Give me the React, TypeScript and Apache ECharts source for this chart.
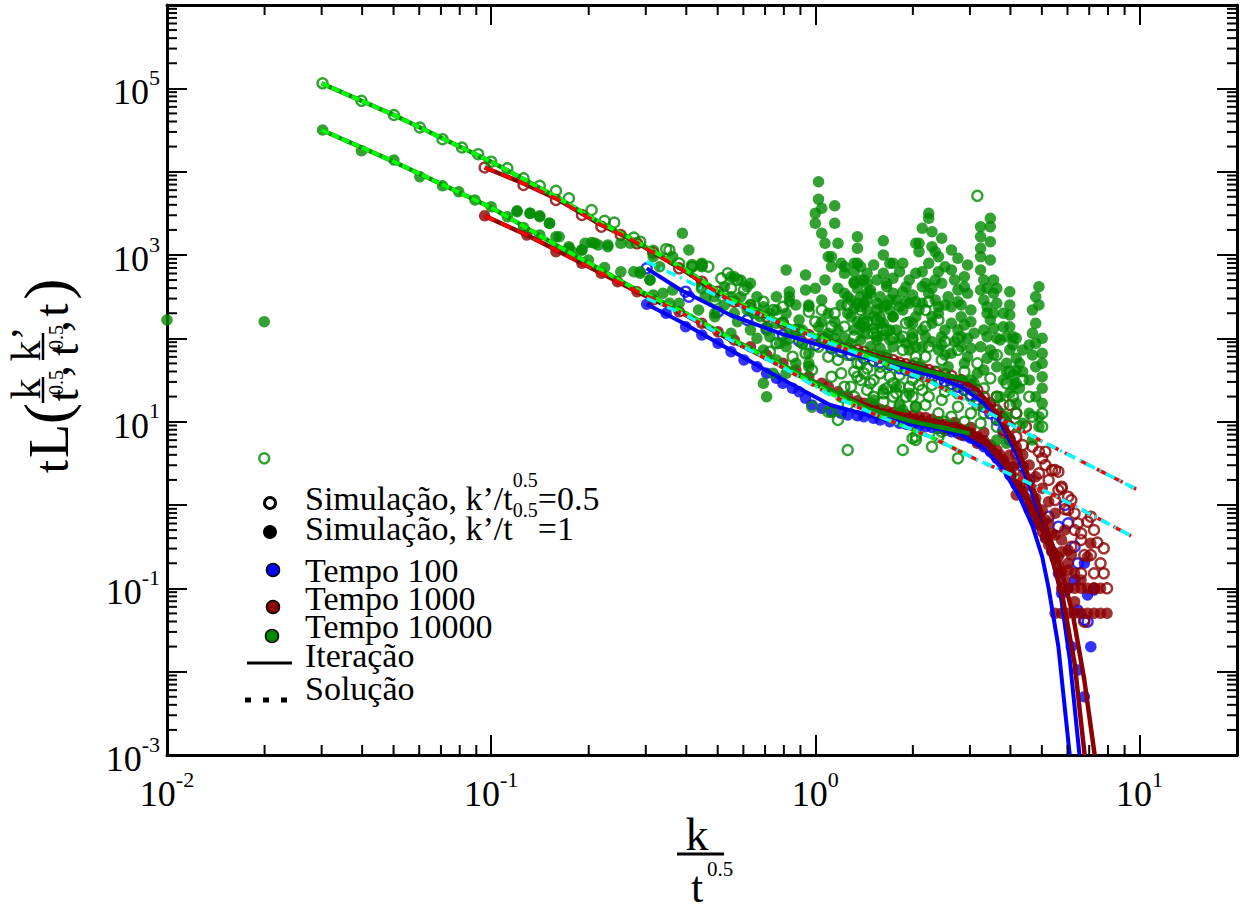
import React, { useEffect, useRef } from 'react';
import * as echarts from 'echarts';

const FONT = "'Liberation Serif', 'Times New Roman', Times, serif";

// axis ranges and tick values
const xRange = [0.01, 20];
const yRange = [0.001, 1e6];
const xMinorTicks = [0.02, 0.03, 0.04, 0.05, 0.06, 0.07, 0.08, 0.09, 0.2, 0.3, 0.4, 0.5, 0.6, 0.7, 0.8, 0.9, 2, 3, 4, 5, 6, 7, 8, 9];
const yDecades = [0.001, 0.01, 0.1, 1, 10, 100, 1000, 10000, 100000];
const minorMult = [2, 3, 4, 5, 6, 7, 8, 9];

// All data below: [log10(k/t^0.5), log10(tL)]
// Tempo 100, k'/t^0.5 = 0.5 (open)
const t100Open = [[-0.52,2.84],[-0.40,2.56],[-0.39,2.50],[-0.30,2.32],[-0.21,2.22],[-0.15,2.12],[-0.10,2.04],[-0.05,1.97],[0.0,1.92],[0.05,1.88],[0.08,1.84],[0.11,1.80],[0.15,1.76],[0.18,1.73],[0.20,1.71],[0.23,1.68],[0.26,1.64],[0.28,1.62],[0.30,1.59],[0.32,1.57],[0.34,1.55],[0.36,1.53],[0.38,1.50],[0.40,1.48],[0.42,1.45],[0.44,1.42],[0.46,1.38],[0.48,1.32],[0.50,1.26],[0.52,1.18],[0.54,1.10],[0.56,1.02],[0.58,0.90],[0.60,0.78],[0.62,0.62],[0.64,0.46],[0.66,0.30],[0.69,-0.22],[0.72,-0.14],[0.75,-0.26],[0.78,-0.22],[0.81,-0.70],[0.83,-1.38],[0.84,-1.40],[0.80,-0.50],[0.77,0.0]];
// Tempo 100, k'/t^0.5 = 1 (filled)
const t100Filled = [[-0.52,2.41],[-0.46,2.30],[-0.40,2.14],[-0.35,2.04],[-0.30,1.94],[-0.26,1.84],[-0.22,1.74],[-0.18,1.66],[-0.15,1.58],[-0.12,1.52],[-0.10,1.46],[-0.07,1.40],[-0.05,1.36],[-0.03,1.28],[-0.01,1.20],[0.02,1.16],[0.05,1.12],[0.08,1.10],[0.10,1.08],[0.13,1.07],[0.15,1.06],[0.18,1.04],[0.20,1.02],[0.23,1.0],[0.26,0.98],[0.28,0.97],[0.30,0.96],[0.32,0.95],[0.34,0.94],[0.36,0.93],[0.38,0.92],[0.40,0.90],[0.42,0.88],[0.44,0.86],[0.46,0.83],[0.48,0.80],[0.50,0.76],[0.52,0.70],[0.54,0.64],[0.56,0.56],[0.58,0.46],[0.60,0.36],[0.62,0.24],[0.64,0.12],[0.66,-0.02],[0.68,-0.14],[0.69,-0.22],[0.71,-0.38],[0.73,-0.55],[0.75,-0.82],[0.76,-1.06],[0.78,-1.0],[0.80,-0.90],[0.83,-0.70],[0.84,-1.08],[0.86,-1.02],[0.81,-1.26],[0.79,-1.70],[0.85,-1.70],[0.81,-1.98],[0.83,-2.30]];
// Tempo 1000, open
const t1000Open = [[-1.02,4.05],[-0.90,3.84],[-0.80,3.66],[-0.72,3.48],[-0.66,3.34],[-0.60,3.24],[-0.55,3.14],[-0.50,3.03],[-0.42,2.84],[-0.35,2.68],[-0.30,2.56],[-0.25,2.44],[-0.20,2.36],[-0.15,2.26],[-0.10,2.18],[-0.06,2.10],[-0.02,2.04],[0.02,1.99],[0.04,1.96],[0.07,1.92],[0.10,1.89],[0.13,1.86],[0.15,1.84],[0.18,1.80],[0.20,1.78],[0.22,1.76],[0.24,1.74],[0.26,1.71],[0.28,1.69],[0.30,1.67],[0.31,1.65],[0.33,1.64],[0.35,1.62],[0.37,1.60],[0.40,1.57],[0.42,1.55],[0.45,1.50],[0.48,1.43],[0.50,1.38],[0.52,1.30],[0.54,1.22],[0.56,1.14],[0.56,1.30],[0.58,1.04],[0.60,1.20],[0.60,0.94],[0.62,1.10],[0.62,0.82],[0.64,0.72],[0.65,0.94],
  [0.67,0.70],[0.69,0.64],[0.70,0.56],[0.71,0.48],[0.73,0.42],[0.75,0.40],[0.69,0.38],[0.72,0.30],[0.76,0.22],[0.75,0.18],[0.78,0.10],[0.79,0.06],[0.74,0.06],[0.78,-0.06],[0.81,-0.22],[0.82,-0.34],[0.86,-0.30],[0.85,-0.14],[0.82,-0.42],[0.79,-0.50],[0.85,-0.60],[0.89,-0.52],[0.88,-0.70],[0.82,-0.82],[0.86,-0.82],[0.89,-0.82],[0.90,-1.00],[0.86,-1.00],[0.83,-1.40],[0.71,0.64],[0.74,0.42],[0.76,0.20],[0.80,-0.10],[0.84,-0.20],[0.87,-0.45],[0.83,-0.60],[0.80,-0.30],[0.77,-0.05]];
// Tempo 1000, filled
const t1000Filled = [[-1.02,3.47],[-0.89,3.24],[-0.80,3.04],[-0.72,2.90],[-0.66,2.78],[-0.61,2.68],[-0.55,2.56],[-0.50,2.46],[-0.42,2.32],[-0.35,2.18],[-0.30,2.08],[-0.25,1.98],[-0.20,1.90],[-0.15,1.80],[-0.10,1.70],[-0.06,1.62],[-0.02,1.54],[0.02,1.46],[0.04,1.42],[0.07,1.36],[0.10,1.30],[0.13,1.25],[0.15,1.22],[0.18,1.18],[0.20,1.15],[0.22,1.13],[0.24,1.11],[0.26,1.10],[0.28,1.08],[0.30,1.07],[0.32,1.06],[0.34,1.05],[0.36,1.03],
  [0.38,1.00],[0.40,0.97],[0.42,0.95],[0.44,0.93],[0.46,0.90],[0.48,0.86],[0.50,0.82],[0.52,0.77],[0.54,0.72],[0.56,0.66],[0.57,0.60],[0.58,0.54],[0.59,0.48],[0.60,0.40],[0.61,0.34],[0.62,0.28],[0.63,0.22],[0.64,0.16],[0.65,0.08],[0.66,0.0],[0.67,-0.08],[0.68,-0.16],[0.69,-0.24],[0.70,-0.32],[0.71,-0.40],[0.72,-0.48],[0.73,-0.56],[0.74,-0.64],[0.75,-0.72],[0.76,-0.80],[0.77,-0.90],[0.40,0.90],[0.45,0.84],[0.50,0.74],[0.55,0.62],[0.43,0.99],[0.48,0.93],[0.52,0.87],[0.54,1.20],[0.57,1.10],[0.59,1.00],[0.61,0.46],[0.62,0.12],[0.66,-0.06],[0.71,-0.18],[0.73,-0.34],[0.76,-0.42],[0.78,-0.54],[0.75,-0.62],[0.78,-0.78],[0.85,-0.46],[0.84,-0.62],
  [0.60,0.60],[0.62,0.50],[0.64,0.36],[0.66,0.24],[0.68,0.08],[0.70,-0.06],[0.72,-0.22],[0.74,-0.36],[0.76,-0.56],[0.78,-0.70],[0.80,-0.82],[0.82,-0.90],[0.80,-1.16],[0.79,-0.60],[0.77,-0.30],[0.74,-0.10],[0.72,0.04],[0.70,0.20],[0.68,0.34],[0.66,0.48],[0.64,0.60],[0.62,0.70],[0.60,0.80],[0.58,0.86],
  [0.76,-1.0],[0.78,-1.0],[0.80,-1.0],[0.82,-1.0],[0.84,-1.0],[0.86,-1.0],[0.88,-1.0],[0.74,-1.30],[0.76,-1.30],[0.78,-1.30],[0.80,-1.30],[0.82,-1.30],[0.84,-1.30],[0.86,-1.30],[0.88,-1.30],[0.90,-1.30]];
// Tempo 10000, open
const t10000Open = [[-1.52,5.06],[-1.40,4.85],[-1.30,4.68],[-1.22,4.53],[-1.15,4.39],[-1.09,4.29],[-1.04,4.21],[-1.00,4.12],[-0.95,4.04],[-0.90,3.92],[-0.85,3.83],[-0.80,3.77],[-0.76,3.68],[-0.69,3.54],[-0.65,3.41],[-0.62,3.39],[-0.56,3.21],[-0.54,3.16],[-0.50,3.05],[-0.46,3.07],[-0.42,2.90],[-0.38,2.86],[-0.29,2.72],
  [-0.45,3.06],[-0.38,2.88],[-0.35,2.88],[-0.33,2.86],[-0.27,2.78],[-0.24,2.70],[-0.22,2.58],[-0.26,2.60],[-0.35,2.60],[-0.31,2.46],[-0.16,2.44],[-0.13,2.34],[-0.10,2.38],[-0.02,2.32],[0.02,2.34],[0.05,2.14],[0.02,2.02],[-0.04,1.94],[0.01,1.90],[-0.03,1.82],[-0.07,1.78],[0.04,1.78],[0.07,1.74],[0.05,1.54],[-0.01,1.62],[0.08,1.58],[0.13,1.70],[0.15,1.58],[0.09,1.42],[0.17,1.46],[0.20,1.58],[0.23,1.54],[0.26,1.42],[0.21,1.24],[0.25,1.34],[0.30,1.30],[0.33,1.38],[0.31,1.78],[0.33,1.62],[0.34,2.14],[0.28,2.18],[0.21,2.10],[0.16,2.06],[0.12,2.02],[0.09,2.14],[0.14,2.34],[0.19,2.22],[0.05,1.12],[0.07,1.02],[-0.01,1.18],[-0.12,1.94],[-0.15,2.10],[0.30,0.80],[0.10,0.66],[0.27,0.66],
  [0.50,3.71],[0.34,2.34],[0.35,2.44],[0.22,2.10],[0.15,2.18],[0.18,2.06],[0.27,2.02],[0.38,2.22],[0.35,1.90],[0.39,1.74],[0.44,1.86],[0.34,1.78],[0.31,1.70],[0.27,1.86],[0.23,1.70],[0.19,1.78],[0.14,1.70],[0.13,1.54],[0.18,1.50],[0.24,1.46],[0.29,1.42],[0.35,1.30],[0.39,1.26],[0.44,1.18],[0.31,1.18],[0.21,1.34],[0.16,1.38],[0.11,1.42],[0.17,1.22],[0.38,1.10],[0.42,1.06],[0.31,0.82],[0.44,0.56],[0.54,1.52],[0.56,1.30],[0.61,1.30],[0.59,1.46],[0.67,1.06],[0.63,0.94],[0.56,0.94],[0.51,0.98],[0.48,1.10],[0.39,0.88],[0.38,0.82],[0.64,1.50],[0.31,0.78],[0.36,0.70],[0.70,0.94],[0.57,1.02],[0.04,1.12],[-0.14,1.84],
  [0.00,2.20],[0.03,2.00],[0.06,1.90],[0.10,1.80],[0.12,1.60],[0.14,1.50],[0.16,1.64],[0.20,1.66],[0.22,1.40],[0.24,1.30],[0.26,1.56],[0.28,1.30],[0.30,1.50],[0.32,1.44],[0.34,1.20],[0.36,1.44],[0.38,1.60],[0.40,1.36],[0.42,1.50],[0.44,1.34],[0.46,1.60],[0.48,1.30],[0.50,1.20],[0.52,1.40],[0.10,1.20],[0.08,1.30],[0.12,1.30],[0.18,1.30],[0.26,1.20],[0.40,1.00],[0.46,1.00],[0.52,1.10],[0.58,1.20],[0.62,1.10],[-0.05,2.10],[-0.08,2.00],[-0.20,2.40],[-0.18,2.30],[0.06,2.30],[0.10,2.40],[0.16,2.20],[0.24,2.00],[0.30,2.00],[0.40,1.96],[0.44,2.00],[0.50,1.70],[0.56,1.80],[0.60,1.60],[0.66,1.30],[0.70,1.10],
  [-1.70,0.56]];
// Tempo 10000, filled
const t10000Filled = [[-1.52,4.50],[-1.40,4.25],[-1.30,4.14],[-1.22,3.94],[-1.15,3.83],[-1.10,3.76],[-1.05,3.66],[-1.00,3.58],[-0.95,3.46],[-0.92,3.53],[-0.88,3.50],[-0.85,3.47],[-0.82,3.38],[-0.80,3.22],[-0.76,3.08],[-0.72,3.06],[-0.69,3.15],[-0.67,3.12],[-0.64,3.12],[-0.60,2.80],[-0.56,2.80],[-0.54,2.78],
  [-0.90,3.33],[-0.85,3.24],[-0.75,3.04],[-0.70,2.94],[-0.65,2.85],[-0.50,2.52],[-0.45,2.42],
  [0.01,3.88],[0.01,3.67],[0.06,3.59],[0.0,3.50],[0.02,3.56],[0.0,3.38],[0.06,3.38],[0.02,3.26],[0.03,3.14],[0.13,3.22],[0.13,3.08],[0.21,3.17],[0.21,3.0],[0.04,2.98],[0.05,2.86],[0.08,2.90],[0.09,2.78],[0.12,2.68],[0.14,2.86],[0.16,2.78],[0.09,2.54],[0.11,2.46],[0.14,2.38],[0.16,2.54],[0.19,2.42],[0.22,2.62],[0.25,2.46],[0.24,2.26],[0.20,2.26],[-0.09,2.82],[-0.03,2.76],[-0.03,2.58],[-0.02,2.38],[-0.08,2.50],[-0.09,2.30],[-0.05,2.22],[-0.12,2.34],[-0.15,2.14],[-0.25,2.74],[-0.21,2.62],[-0.26,2.50],[-0.31,2.30],[-0.25,2.30],[-0.19,2.30],[-0.41,3.26],[-0.39,3.06],[-0.44,2.98],[-0.48,2.86],[-0.35,2.86],[-0.35,2.62],[-0.31,2.50],[-0.50,2.98],[-0.71,3.14],[-0.68,3.14],[-0.64,3.10],[-0.72,3.06],[-0.76,3.10],[-0.79,3.22],[-0.92,3.52],[-0.88,3.50],[-0.85,3.46],[-0.82,3.38],[-0.60,3.14],[-0.57,3.14],[-0.54,2.80],[-0.51,2.70],[-0.16,1.46],[-0.15,1.30],[-0.13,1.58],[-0.26,2.06],[-0.04,2.10],[-0.09,1.90],[-0.02,1.70],
  [-0.08,2.56],[-0.08,2.44],[-0.02,2.40],[0.07,3.14],[0.05,2.98],[0.09,2.86],[0.13,2.90],[0.23,2.90],[0.28,2.62],[0.31,3.14],[0.31,2.78],[0.33,2.62],[0.15,2.70],[0.17,2.58],[0.10,2.50],[0.13,2.42],[0.16,2.34],[0.21,2.38],[0.24,2.26],[0.27,2.34],[0.31,2.26],[0.20,2.18],[0.25,2.10],[0.33,2.10],[0.11,2.26],[0.15,2.14],[0.19,2.02],[0.23,1.98],[0.30,1.98],[0.33,1.90],[0.17,1.90],[0.11,1.94],[0.07,2.10],[0.04,2.06],[0.01,2.14],[-0.06,2.10],[-0.09,1.98],[-0.04,1.94],[-0.02,1.82],[-0.06,1.70],[-0.02,1.66],[0.21,1.38],[0.25,1.42],[0.29,1.34],[0.18,1.26],[0.26,1.18],[0.31,1.18],[-0.26,2.74],[-0.23,2.70],[-0.20,2.66],[-0.28,2.62],[-0.23,2.50],[-0.18,2.50],[-0.16,2.38],[-0.21,2.34],[-0.17,2.26],[-0.12,2.18],[-0.14,2.02],[-0.11,1.94],[-0.16,1.86],[-0.12,1.74],[-0.09,1.58],[-0.47,2.54],[-0.44,2.58],[-0.42,2.42],[-0.36,2.34],[-0.31,2.26],[-0.34,2.50],[-0.51,2.70],[-0.38,2.86],[-0.35,2.90],
  [0.24,2.90],[0.21,2.78],[0.22,2.66],[0.24,2.54],[0.26,2.38],[0.29,2.42],[0.23,2.34],[0.17,2.54],[0.15,2.42],[0.18,2.26],[0.14,2.70],[0.12,2.90],[0.12,2.66],[0.15,2.22],[0.21,2.18],[0.30,2.18],[0.14,1.98],[0.19,1.98],[0.24,1.90],[0.29,1.86],[0.27,1.66],[0.32,1.66],[0.35,3.50],[0.35,3.44],[0.33,3.32],[0.36,3.28],[0.32,3.14],[0.36,3.10],[0.32,3.04],[0.38,2.98],[0.35,2.90],[0.33,2.80],[0.38,2.80],[0.34,2.66],[0.39,2.66],[0.35,2.54],[0.41,2.50],[0.33,2.42],[0.38,2.38],[0.42,2.82],[0.46,2.74],[0.42,3.06],[0.44,2.58],[0.47,2.54],[0.42,2.38],[0.45,2.26],[0.48,2.34],[0.42,2.18],[0.36,2.18],[0.34,2.02],[0.39,2.02],[0.45,2.02],[0.49,2.06],[0.38,1.86],[0.42,1.82],[0.47,1.78],[0.41,1.66],[0.50,1.58],[0.54,3.44],[0.54,3.34],[0.51,3.34],[0.51,3.22],[0.54,3.16],[0.51,3.08],[0.51,2.98],[0.54,2.94],[0.51,2.82],[0.52,2.70],[0.55,2.70],[0.51,2.58],[0.55,2.54],[0.56,2.42],[0.60,2.56],[0.60,2.40],[0.60,2.28],[0.53,2.38],[0.54,2.22],[0.58,2.14],[0.53,2.02],[0.57,1.98],[0.61,2.02],[0.54,1.86],[0.60,1.86],[0.64,1.86],[0.59,1.70],[0.62,1.62],[0.58,1.50],[0.62,1.46],[0.60,1.34],[0.62,1.22],[0.69,2.62],[0.69,2.40],[0.67,2.34],[0.68,2.18],[0.68,1.94],[0.70,1.82],[0.70,1.70],[0.70,1.54],[0.70,1.40],[0.70,1.22],[0.64,0.98],[0.69,0.94],[0.57,1.30],[0.59,1.06],[0.56,0.78],[0.59,0.74],[0.49,1.46],[0.52,1.22],[0.27,1.14],[0.48,1.50],[0.67,0.78],
  [0.12,2.80],[0.13,2.60],[0.14,2.50],[0.12,2.36],[0.13,2.20],[0.15,2.06],[0.12,2.10],[0.16,2.46],[0.14,2.16],[0.16,2.66],
  [0.18,2.88],[0.19,2.70],[0.20,2.50],[0.22,2.40],[0.19,2.34],[0.21,2.04],[0.23,2.10],[0.20,1.88],[0.22,1.80],[0.24,2.72],[0.23,2.46],[0.18,2.12],
  [0.26,2.80],[0.27,2.56],[0.28,2.44],[0.29,2.20],[0.30,2.06],[0.26,2.00],[0.28,1.94],[0.31,1.90],[0.30,2.52],[0.29,2.70],[0.27,2.90],[0.32,2.34],[0.31,2.44],
  [0.36,2.60],[0.37,2.46],[0.38,2.30],[0.40,2.10],[0.36,1.96],[0.39,1.92],[0.40,2.40],[0.37,2.70],[0.40,2.86],[0.39,3.20],[0.37,3.04],[0.36,2.26],[0.40,1.80],
  [0.43,2.70],[0.44,2.44],[0.45,2.40],[0.46,2.16],[0.44,2.10],[0.47,2.00],[0.43,1.96],[0.45,1.90],[0.48,1.88],[0.46,2.62],[0.47,2.88],[0.44,2.96],[0.48,2.20],[0.46,1.70],
  [0.52,2.46],[0.53,2.30],[0.55,2.12],[0.52,2.10],[0.56,2.00],[0.51,1.90],[0.55,1.80],[0.53,1.76],[0.56,1.66],[0.52,1.62],[0.55,2.30],[0.56,2.60],[0.53,2.60],
  [0.58,2.30],[0.59,2.02],[0.61,1.92],[0.62,1.76],[0.63,1.70],[0.59,1.60],[0.61,1.56],[0.63,1.40],[0.60,2.14],[0.62,2.00],[0.64,1.60],[0.61,1.44],
  [0.66,1.92],[0.67,1.80],[0.68,1.66],[0.66,1.50],[0.68,1.30],[0.66,1.10],[0.69,1.06],[0.67,2.06],[0.68,2.50],[0.70,2.00],
  [0.00,2.60],[0.02,2.46],[0.04,2.30],[0.06,2.20],[0.03,2.70],[0.07,2.60],[0.08,2.40],[0.10,2.30],[0.06,2.00],[0.09,2.00],[0.02,2.20],
  [-0.28,2.40],[-0.24,2.20],[-0.20,2.10],[-0.18,2.00],[-0.14,2.30],[-0.10,2.20],[-0.06,2.40],[-0.08,2.10],[-0.20,2.40],[-0.12,2.50],
  [-2.00,2.22],[-1.70,2.20]];

// Iteração (solid curves)
const iterBlueUpper = [[-0.52,2.84],[-0.415,2.58],[-0.262,2.28],[-0.108,2.06],[0.046,1.88],[0.2,1.72],[0.354,1.56],[0.45,1.42],[0.52,1.22],[0.57,1.0],[0.62,0.62],[0.66,0.24],[0.70,-0.2],[0.73,-0.62],[0.754,-1.0],[0.785,-1.85],[0.815,-3.0]];
const iterBlueLower = [[-0.52,2.41],[-0.415,2.2],[-0.262,1.86],[-0.108,1.52],[0.046,1.2],[0.2,1.04],[0.354,0.94],[0.45,0.84],[0.52,0.68],[0.58,0.42],[0.63,0.1],[0.67,-0.25],[0.70,-0.62],[0.72,-1.0],[0.75,-1.7],[0.785,-3.0]];
const iterRedUpper = [[-1.02,4.05],[-0.9,3.86],[-0.8,3.68],[-0.66,3.36],[-0.569,3.19],[-0.4,2.8],[-0.262,2.45],[-0.1,2.17],[0.046,1.96],[0.2,1.78],[0.354,1.62],[0.45,1.5],[0.5,1.38],[0.57,1.06],[0.63,0.62],[0.68,0.12],[0.72,-0.35],[0.76,-0.8],[0.794,-1.3],[0.83,-2.1],[0.862,-3.0]];
const iterRedLower = [[-1.02,3.47],[-0.89,3.24],[-0.8,3.06],[-0.66,2.78],[-0.55,2.56],[-0.4,2.28],[-0.262,1.98],[-0.1,1.66],[0.046,1.36],[0.2,1.14],[0.354,1.02],[0.45,0.94],[0.52,0.8],[0.58,0.56],[0.63,0.26],[0.68,-0.1],[0.72,-0.5],[0.763,-1.1],[0.8,-1.9],[0.831,-3.0]];
const iterGreenUpper = [[-1.523,5.06],[-1.3,4.68],[-1.0,4.12],[-0.8,3.70],[-0.66,3.38],[-0.569,3.20],[-0.4,2.82],[-0.262,2.47],[-0.1,2.18],[0.046,1.96],[0.2,1.76],[0.354,1.6],[0.47,1.5]];
const iterGreenLower = [[-1.523,4.5],[-1.3,4.12],[-1.0,3.57],[-0.8,3.12],[-0.66,2.82],[-0.569,2.62],[-0.4,2.3],[-0.262,2.0],[-0.1,1.68],[0.046,1.38],[0.16,1.16],[0.3,1.0],[0.477,0.86]];

// Solução (dashed curves)
const solGreenUpper = [[-1.523,5.06],[-1.3,4.68],[-1.0,4.12],[-0.8,3.70],[-0.66,3.38],[-0.569,3.20],[-0.4,2.82],[-0.262,2.47],[-0.1,2.18],[0.046,1.96],[0.2,1.72],[0.354,1.48],[0.44,1.30]];
const solGreenLower = [[-1.523,4.5],[-1.3,4.12],[-1.0,3.57],[-0.8,3.12],[-0.66,2.82],[-0.569,2.62],[-0.4,2.3],[-0.262,2.0],[-0.1,1.66],[0.046,1.34],[0.2,1.06],[0.354,0.82],[0.47,0.6]];
const solRedUpper = [[-1.02,4.05],[-0.9,3.86],[-0.8,3.68],[-0.66,3.36],[-0.569,3.19],[-0.4,2.8],[-0.262,2.45],[-0.1,2.17],[0.046,1.94],[0.2,1.72],[0.354,1.48],[0.5,1.18],[0.692,0.78],[0.99,0.19]];
const solRedLower = [[-1.02,3.47],[-0.89,3.24],[-0.8,3.06],[-0.66,2.78],[-0.569,2.6],[-0.4,2.28],[-0.262,1.98],[-0.1,1.65],[0.046,1.32],[0.2,1.06],[0.354,0.82],[0.5,0.54],[0.63,0.32],[0.795,0.0],[0.974,-0.37]];
const solCyanUpper = [[-0.52,2.92],[-0.4,2.70],[-0.262,2.43],[-0.1,2.17],[0.046,1.94],[0.2,1.72],[0.354,1.48],[0.5,1.18],[0.692,0.78],[0.99,0.19]];
const solCyanLower = [[-0.52,2.48],[-0.4,2.28],[-0.262,1.98],[-0.1,1.65],[0.046,1.32],[0.2,1.06],[0.354,0.82],[0.5,0.54],[0.63,0.32],[0.795,0.0],[0.974,-0.37]];

const BLUE = '#0000ff';
const DARKRED = '#8b0000';
const GREEN = '#008b00';
const RED = '#ff0000';
const CYAN = '#00ffff';
const LIME = '#00ff00';

const pts = (a: number[][]) => a.map(([lx, ly]) => [Math.pow(10, lx), Math.pow(10, ly)]);

const scatter = (data: number[][], color: string, open: boolean, z: number) => ({
  type: 'scatter',
  data: pts(data),
  symbol: 'circle',
  symbolSize: open ? 10 : 11.5,
  itemStyle: open
    ? { color: 'rgba(0,0,0,0)', borderColor: color, borderWidth: 2.4 }
    : { color, borderWidth: 0 },
  silent: true,
  z,
});

const line = (data: number[][], color: string, width: number, dash: any, z: number) => ({
  type: 'line',
  data: pts(data),
  showSymbol: false,
  symbol: 'none',
  lineStyle: { color, width, type: dash, cap: 'butt' },
  silent: true,
  z,
});

const labelRich = {
  b: { fontSize: 36, fontFamily: FONT, color: '#000', lineHeight: 44, verticalAlign: 'bottom' },
  s: { fontSize: 22, fontFamily: FONT, color: '#000', verticalAlign: 'top' },
};

const decFmt = (oddOnly: boolean) => (v: number) => {
  const l = Math.log10(v);
  const e = Math.round(l);
  if (Math.abs(l - e) > 1e-6) return '';
  if (oddOnly && ((e % 2) + 2) % 2 === 0) return '';
  return `{b|10}{s|${e}}`;
};

const axisCommon = {
  type: 'log',
  logBase: 10,
  axisLine: { show: true, onZero: false, lineStyle: { color: '#000', width: 3 } },
  axisTick: { show: true, inside: true, length: 20, lineStyle: { color: '#000', width: 2 } },
  splitLine: { show: false },
  minorTick: { show: false },
  minorSplitLine: { show: false },
};

export default function App() {
  const ref = useRef<HTMLDivElement>(null);
  useEffect(() => {
    document.body.style.margin = '0';
    document.body.style.overflow = 'hidden';
    if (!ref.current) return;
    const chart = echarts.init(ref.current, undefined, { renderer: 'svg' });

    const yMinor: number[] = [];
    yDecades.forEach((d) => minorMult.forEach((m) => yMinor.push(d * m)));

    const tickLine = (x1: number, y1: number, x2: number, y2: number) => ({
      type: 'line', shape: { x1, y1, x2, y2 }, style: { stroke: '#000', lineWidth: 2 },
    });

    const LEG = 34;
    const legendText = (y: number, text: string) => ({
      type: 'text', x: 305, y,
      style: { text, fontSize: LEG, fontFamily: FONT, fill: '#000', align: 'left', verticalAlign: 'middle', lineHeight: 28 },
    });
    const legendRich = {
      a: { fontSize: LEG, fontFamily: FONT, fill: '#000', lineHeight: 46, verticalAlign: 'bottom' },
      s: { fontSize: 20, fontFamily: FONT, fill: '#000', verticalAlign: 'top' },
    };
    const yt = (text: string, u: number, v: number, size: number) => ({
      type: 'text', x: u, y: v,
      style: { text, fontSize: size, fontFamily: FONT, fill: '#000', align: 'center', verticalAlign: 'middle' },
    });

    const option: any = {
      animation: false,
      backgroundColor: '#fff',
      grid: { left: 167, top: 5, width: 1070, height: 750, containLabel: false },
      xAxis: [
        { ...axisCommon, min: xRange[0], max: xRange[1], position: 'bottom',
          axisLabel: { show: true, margin: 13, formatter: decFmt(false), rich: labelRich } },
        { ...axisCommon, min: xRange[0], max: xRange[1], position: 'top', axisLabel: { show: false } },
      ],
      yAxis: [
        { ...axisCommon, min: yRange[0], max: yRange[1], position: 'left',
          axisLabel: { show: true, margin: 7, formatter: decFmt(true), rich: labelRich } },
        { ...axisCommon, min: yRange[0], max: yRange[1], position: 'right', axisLabel: { show: false } },
      ],
      series: [
        scatter(t100Filled, BLUE, false, 2),
        scatter(t100Open, BLUE, true, 2),
        scatter(t1000Filled, DARKRED, false, 2),
        scatter(t1000Open, DARKRED, true, 2),
        scatter(t10000Filled, GREEN, false, 2),
        scatter(t10000Open, GREEN, true, 2),
        line(iterBlueUpper, BLUE, 4, 'solid', 3),
        line(iterBlueLower, BLUE, 4, 'solid', 3),
        line(iterRedUpper, DARKRED, 4.5, 'solid', 3),
        line(iterRedLower, DARKRED, 4.5, 'solid', 3),
        line(iterGreenUpper, GREEN, 4.5, 'solid', 3),
        line(iterGreenLower, GREEN, 4.5, 'solid', 3),
        line(solGreenUpper, LIME, 4, [8, 3], 4),
        line(solGreenLower, LIME, 4, [8, 3], 4),
        line(solRedUpper, RED, 3.5, [11, 7], 4),
        line(solRedLower, RED, 3.5, [11, 7], 4),
        line(solCyanUpper, CYAN, 3.5, [10, 5, 2, 5], 5),
        line(solCyanLower, CYAN, 3.5, [10, 5, 2, 5], 5),
        {
          type: 'custom', xAxisIndex: 0, yAxisIndex: 0, silent: true, z: 10, clip: false,
          data: xMinorTicks.map((v) => [v, 1]),
          renderItem: (params: any, api: any) => {
            const cs = params.coordSys;
            const px = api.coord([api.value(0), 1])[0];
            const b = cs.y + cs.height;
            return { type: 'group', children: [tickLine(px, b, px, b - 10), tickLine(px, cs.y, px, cs.y + 10)] };
          },
        },
        {
          type: 'custom', xAxisIndex: 0, yAxisIndex: 0, silent: true, z: 10, clip: false,
          data: yMinor.map((v) => [1, v]),
          renderItem: (params: any, api: any) => {
            const cs = params.coordSys;
            const py = api.coord([1, api.value(1)])[1];
            const r = cs.x + cs.width;
            return { type: 'group', children: [tickLine(cs.x, py, cs.x + 10, py), tickLine(r, py, r - 10, py)] };
          },
        },
      ],
      graphic: [
        // legend
        { type: 'circle', shape: { cx: 270, cy: 503, r: 5.5 }, style: { fill: '#fff', stroke: '#000', lineWidth: 3 } },
        { type: 'text', x: 305, y: 492.5, style: { text: '{a|Simulação, k’/t}{s|0.5}{a|=0.5}', rich: legendRich, fill: '#000', align: 'left', verticalAlign: 'middle' } },
        { type: 'circle', shape: { cx: 270, cy: 532, r: 7 }, style: { fill: '#000' } },
        { type: 'text', x: 305, y: 522.5, style: { text: '{a|Simulação, k’/t}{s|0.5}{a|=1}', rich: legendRich, fill: '#000', align: 'left', verticalAlign: 'middle' } },
        { type: 'circle', shape: { cx: 273, cy: 570, r: 6.5 }, style: { fill: BLUE, stroke: '#000', lineWidth: 1.5 } },
        legendText(570, 'Tempo 100'),
        { type: 'circle', shape: { cx: 273, cy: 607, r: 6.5 }, style: { fill: DARKRED, stroke: '#000', lineWidth: 1.5 } },
        legendText(598, 'Tempo 1000'),
        { type: 'circle', shape: { cx: 272, cy: 636, r: 6.5 }, style: { fill: GREEN, stroke: '#000', lineWidth: 1.5 } },
        legendText(626, 'Tempo 10000'),
        { type: 'line', shape: { x1: 247, y1: 663, x2: 292, y2: 663 }, style: { stroke: '#000', lineWidth: 3 } },
        legendText(655, 'Iteração'),
        { type: 'line', shape: { x1: 245, y1: 700, x2: 292, y2: 700 }, style: { stroke: '#000', lineWidth: 5, lineDash: [6, 12] } },
        legendText(688, 'Solução'),
        // x-axis title: k / t^0.5
        { type: 'text', x: 697, y: 834, style: { text: 'k', fontSize: 46, fontFamily: FONT, fill: '#000', align: 'center', verticalAlign: 'middle' } },
        { type: 'line', shape: { x1: 677, y1: 854, x2: 724, y2: 854 }, style: { stroke: '#000', lineWidth: 3 } },
        { type: 'text', x: 697, y: 887, style: { text: 't', fontSize: 44, fontFamily: FONT, fill: '#000', align: 'center', verticalAlign: 'middle' } },
        { type: 'text', x: 707, y: 869, style: { text: '0.5', fontSize: 21, fontFamily: FONT, fill: '#000', align: 'left', verticalAlign: 'middle' } },
        // y-axis title (rotated)
        {
          type: 'group', x: 68, y: 478, rotation: Math.PI / 2,
          children: [
            yt('t', 11.5, -16.5, 48),
            yt('L', 37, -19, 56),
            yt('(', 64.5, -22, 64),
            yt('k', 89, -42, 42),
            { type: 'line', shape: { x1: 75, y1: -25, x2: 101, y2: -25 }, style: { stroke: '#000', lineWidth: 2.5 } },
            yt('t', 82.5, -5, 44),
            yt('0.5', 95.5, -11.8, 20),
            yt(',', 107, -16.5, 48),
            yt('k’', 134, -42, 42),
            { type: 'line', shape: { x1: 118, y1: -25, x2: 145, y2: -25 }, style: { stroke: '#000', lineWidth: 2.5 } },
            yt('t', 128, -5, 44),
            yt('0.5', 140.5, -11.8, 20),
            yt(',', 152, -16.5, 48),
            yt('t', 168, -16.5, 48),
            yt(')', 189, -22, 64),
          ],
        },
      ],
    };
    chart.setOption(option);
    return () => chart.dispose();
  }, []);
  return <div ref={ref} style={{ width: 1244, height: 910 }} />;
}
